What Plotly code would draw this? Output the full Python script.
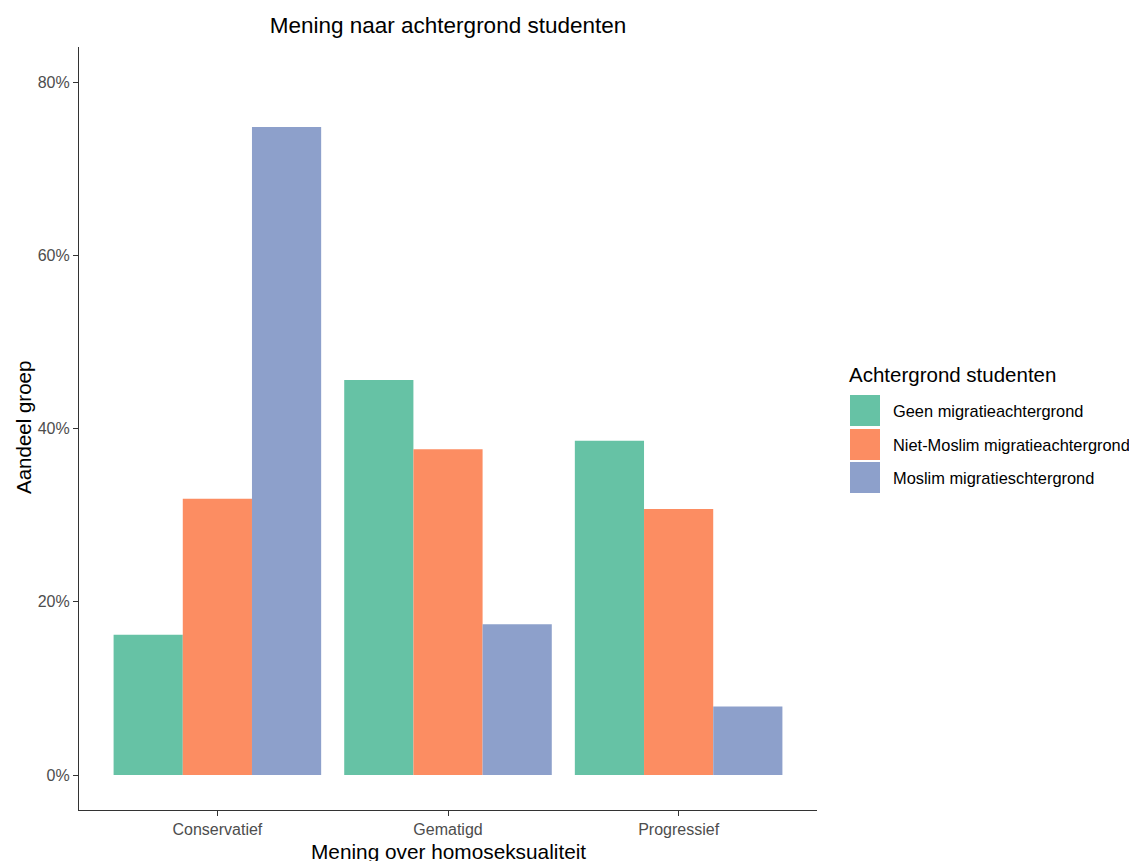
import plotly.graph_objects as go

categories = ["Conservatief", "Gematigd", "Progressief"]
series_names = ["Geen migratieachtergrond", "Niet-Moslim migratieachtergrond", "Moslim migratieschtergrond"]
geen = [16.2, 45.6, 38.6]
niet_moslim = [31.9, 37.6, 30.7]
moslim = [74.8, 17.4, 7.9]
y_ticks = [0, 20, 40, 60, 80]
y_tick_labels = [f"{v}%" for v in y_ticks]

colors = ["#66C2A5", "#FC8D62", "#8DA0CB"]
values = [geen, niet_moslim, moslim]

FONT = "Liberation Sans, Arial, sans-serif"
OFF = 8  # page body margin
W, H = 1137 - OFF, 861 - OFF
L, R, T, B = 79 - OFF, 320, 47 - OFF, 51
pw, ph = W - L - R, H - T - B

fig = go.Figure()
for name, vals, col in zip(series_names, values, colors):
    fig.add_trace(go.Bar(x=categories, y=vals, name=name, marker=dict(color=col, line=dict(width=0)),
                         showlegend=False))

def px(x):
    return (x - OFF - L) / pw

def py(y):
    return (H - B - (y - OFF)) / ph

shapes = []
annotations = []
# legend (manual)
annotations.append(dict(x=px(847), y=py(375), xref="paper", yref="paper", text="Achtergrond studenten",
                        showarrow=False, xanchor="left", yanchor="middle",
                        font=dict(family=FONT, size=20.5, color="#000000")))
key_tops = [395, 429, 462]
for i, (name, col) in enumerate(zip(series_names, colors)):
    top = key_tops[i]
    shapes.append(dict(type="rect", xref="paper", yref="paper", x0=px(850), x1=px(880),
                       y0=py(top + 31), y1=py(top), fillcolor=col, line=dict(width=0)))
    annotations.append(dict(x=px(891), y=py(top + 16), xref="paper", yref="paper", text=name,
                            showarrow=False, xanchor="left", yanchor="middle",
                            font=dict(family=FONT, size=16.4, color="#000000")))
# axis titles
annotations.append(dict(x=px(448), y=py(851), xref="paper", yref="paper", text="Mening over homoseksualiteit",
                        showarrow=False, xanchor="center", yanchor="middle",
                        font=dict(family=FONT, size=20.8, color="#000000")))
annotations.append(dict(x=px(23), y=py(428), xref="paper", yref="paper", text="Aandeel groep",
                        showarrow=False, xanchor="center", yanchor="middle", textangle=-90,
                        font=dict(family=FONT, size=20.5, color="#000000")))

fig.update_layout(
    width=W, height=H,
    margin=dict(l=L, r=R, t=T, b=B, autoexpand=False),
    paper_bgcolor="white", plot_bgcolor="white",
    barmode="group", bargap=0.1, bargroupgap=0,
    font=dict(family=FONT),
    title=dict(text="Mening naar achtergrond studenten", xref="paper", x=px(448), xanchor="center",
               yref="container", y=1 - (25 - OFF) / H, yanchor="middle",
               font=dict(family=FONT, size=22.5, color="#000000")),
    shapes=shapes, annotations=annotations,
    showlegend=False,
)
fig.update_xaxes(range=[-0.6, 2.6], showline=True, linecolor="#333333", linewidth=1.2,
                 ticks="outside", ticklen=5, tickcolor="#333333", tickwidth=1.2,
                 tickfont=dict(family=FONT, size=16, color="#4D4D4D"),
                 showgrid=False, zeroline=False)
fig.update_yaxes(range=[-4.04, 84.04], tickmode="array", tickvals=y_ticks, ticktext=y_tick_labels,
                 showline=True, linecolor="#333333", linewidth=1.2, ticks="outside", ticklen=5,
                 tickcolor="#333333", tickwidth=1.2, tickfont=dict(family=FONT, size=16, color="#4D4D4D"),
                 showgrid=False, zeroline=False)

fig.write_html("out.html")
